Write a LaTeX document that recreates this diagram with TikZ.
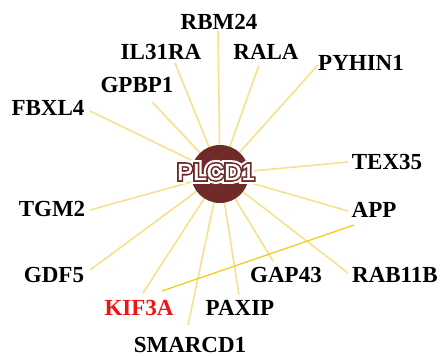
\documentclass[tikz,border=0pt]{standalone}
\usepackage{fontspec}
\setmainfont{Liberation Serif}
\newfontfamily\hubfont[FakeBold=2]{Liberation Sans}
\newfontfamily\hubfontA[FakeBold=34]{Liberation Sans}
\newfontfamily\hubfontB[FakeBold=16]{Liberation Sans}
\usetikzlibrary{calc}
\definecolor{edgeyel}{RGB}{246,226,140}
\definecolor{edgegold}{RGB}{246,200,20}
\definecolor{hubbrown}{RGB}{112,42,42}
\definecolor{kifred}{RGB}{240,20,20}
\tikzset{
  gene/.style={font=\fontsize{23}{25}\selectfont\bfseries, inner sep=0pt, text=black},
  edge/.style={draw=edgeyel, line width=1.6pt},
  hublbl/.style={inner sep=0pt, xscale=1.05}
}
\begin{document}
\begin{tikzpicture}[x=1pt,y=-1pt]
\useasboundingbox (0,0) rectangle (442,356);
\fill[white] (0,0) rectangle (442,356);
% hub position
\coordinate (plcd1) at (220,174);
\coordinate (lblpos) at (216,172);
% gene labels
\node[gene] (rbm24) at (219,22) {RBM24};
\node[gene] (il31ra) at (161,52) {IL31RA};
\node[gene] (rala) at (266,52) {RALA};
\node[gene] (pyhin1) at (361,63) {PYHIN1};
\node[gene] (gpbp1) at (137,85) {GPBP1};
\node[gene] (fbxl4) at (48,108) {FBXL4};
\node[gene] (tex35) at (387,162) {TEX35};
\node[gene] (tgm2) at (52,209) {TGM2};
\node[gene] (app) at (374,210) {APP};
\node[gene] (gdf5) at (54,275) {GDF5};
\node[gene] (gap43) at (286,275) {GAP43};
\node[gene] (rab11b) at (395,275) {RAB11B};
\node[gene,text=kifred] (kif3a) at (139,308) {KIF3A};
\node[gene] (paxip) at (240,308) {PAXIP};
\node[gene] (smarcd1) at (190,345) {SMARCD1};
% edge end points near labels
\coordinate (e-rbm24) at (218,31);
\coordinate (e-il31ra) at (175,63);
\coordinate (e-rala) at (259,65);
\coordinate (e-pyhin1) at (318,65);
\coordinate (e-gpbp1) at (152,102);
\coordinate (e-fbxl4) at (90,111);
\coordinate (e-tex35) at (348,162);
\coordinate (e-tgm2) at (90,210);
\coordinate (e-app) at (348,211);
\coordinate (e-gdf5) at (90,270);
\coordinate (e-gap43) at (273,261);
\coordinate (e-rab11b) at (348,273);
\coordinate (e-kif3a) at (143,293);
\coordinate (e-paxip) at (239,295);
\coordinate (e-smarcd1) at (188,325);
\coordinate (k-kif3a) at (162,291);
\coordinate (k-app) at (354,225);
% edges
\foreach \g in {rbm24,il31ra,rala,pyhin1,gpbp1,fbxl4,tex35,tgm2,app,gdf5,gap43,rab11b,kif3a,paxip,smarcd1}
  \draw[edge] (e-\g) -- (plcd1);
\draw[draw=edgegold, line width=1.2pt] (k-kif3a) -- (k-app);
% hub
\node[circle, fill=hubbrown, minimum size=58pt, inner sep=0pt] (hub) at (plcd1) {};
\node[hublbl, text=white, font=\hubfontA\fontsize{23}{25}\selectfont] at (lblpos) {PLCD1};
\node[hublbl, text=hubbrown, font=\hubfontB\fontsize{23}{25}\selectfont] at (lblpos) {PLCD1};
\node[hublbl, text=white, font=\hubfont\fontsize{23}{25}\selectfont] (hublabel) at (lblpos) {PLCD1};
\end{tikzpicture}
\end{document}
